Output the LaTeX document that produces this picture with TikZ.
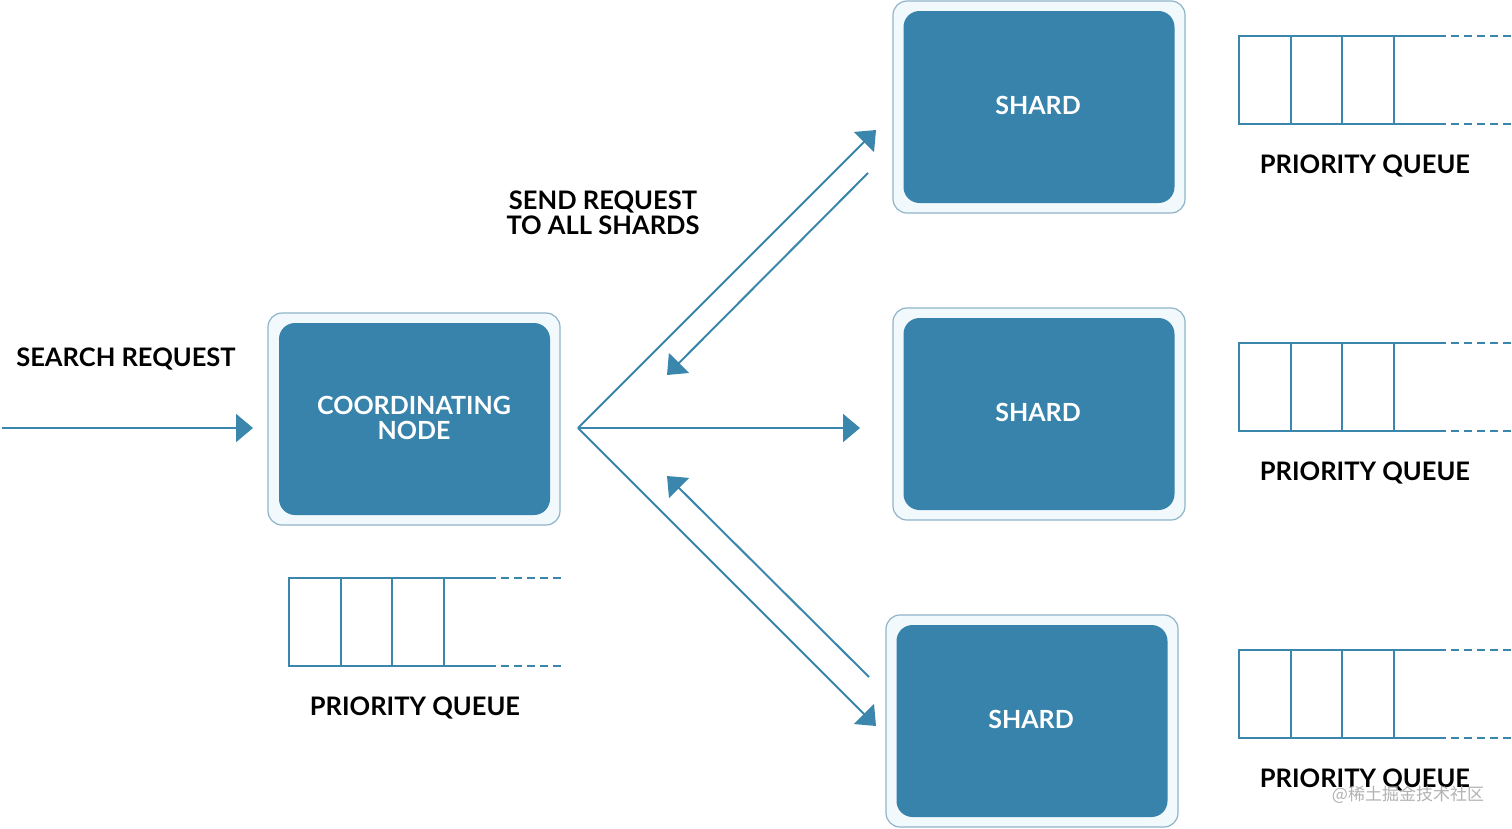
\documentclass[tikz,border=0pt]{standalone}
\usepackage{fontspec}
\setmainfont{Lato}
\newfontfamily\cjk{Noto Sans CJK SC}
\usetikzlibrary{arrows.meta}
\definecolor{esblue}{HTML}{3783AB}
\definecolor{lineblue}{HTML}{3A86AD}
\definecolor{outerfill}{HTML}{F2F9FC}
\definecolor{outerdraw}{HTML}{8FB4C8}
\begin{document}
\begin{tikzpicture}[x=1pt,y=-1pt,
  outerbox/.style={draw=outerdraw, line width=1.2pt, fill=outerfill, rounded corners=14pt,
    minimum width=292pt, minimum height=212pt, inner sep=0pt},
  innerbox/.style={fill=esblue, rounded corners=16pt, minimum width=271pt, minimum height=192pt,
    inner sep=0pt},
  boxtext/.style={text=white, font=\fontsize{25}{25}\selectfont\bfseries, align=center, inner sep=0pt},
  txt/.style={text=black, font=\fontsize{25.5}{25}\selectfont\bfseries, align=center, inner sep=0pt},
  conn/.style={draw=lineblue, line width=2pt, -{Triangle[length=17pt,width=28pt]}},
  qline/.style={draw=lineblue, line width=2.8pt},
  qdash/.style={draw=lineblue, line width=2.8pt, dash pattern=on 8pt off 5pt}
]
\useasboundingbox (0,0) rectangle (1512,828);
\fill[white] (0,0) rectangle (1512,828);

% coordinating node
\node[outerbox] (coordout) at (414,419) {};
\node[innerbox] (coord) at (414.5,419) {};
\node[boxtext] (coordtxt) at (414,418) {COORDINATING\\NODE};

% shards
\node[outerbox] (s1out) at (1039,107) {};
\node[innerbox] (s1) at (1039,107) {};
\node[boxtext] (s1txt) at (1038,105) {SHARD};

\node[outerbox] (s2out) at (1039,414) {};
\node[innerbox] (s2) at (1039,414) {};
\node[boxtext] (s2txt) at (1038,412) {SHARD};

\node[outerbox] (s3out) at (1032,721) {};
\node[innerbox] (s3) at (1032,721) {};
\node[boxtext] (s3txt) at (1031,719) {SHARD};

% labels
\node[txt] (search) at (126,359) {SEARCH REQUEST};
\node[txt] (send) at (603,213) {SEND REQUEST\\TO ALL SHARDS};

% connector endpoints
\coordinate (in) at (2,428);
\coordinate (intip) at (253,428);
\coordinate (fan) at (578,428);
\coordinate (t1) at (876,130);
\coordinate (t2) at (860,428);
\coordinate (t3) at (876,726);
\coordinate (r1s) at (868,173);
\coordinate (r1t) at (667,375);
\coordinate (r3s) at (869,677);
\coordinate (r3t) at (667,476);

\draw[conn] (in) -- (intip);
\draw[conn] (fan) -- (t1);
\draw[conn] (fan) -- (t2);
\draw[conn] (fan) -- (t3);
\draw[conn] (r1s) -- (r1t);
\draw[conn] (r3s) -- (r3t);

% priority queues
\foreach \qx/\qy/\lx/\ly in {1239/36/1365/166, 1239/343/1365/473, 1239/650/1365/780, 289/578/415/708}{
  \draw[qline] (\qx+207,\qy) -- (\qx,\qy) -- (\qx,\qy+88) -- (\qx+207,\qy+88);
  \draw[qline] (\qx+52,\qy) -- (\qx+52,\qy+88);
  \draw[qline] (\qx+103,\qy) -- (\qx+103,\qy+88);
  \draw[qline] (\qx+155,\qy) -- (\qx+155,\qy+88);
  \draw[qdash] (\qx+212,\qy) -- (\qx+272,\qy);
  \draw[qdash] (\qx+212,\qy+88) -- (\qx+272,\qy+88);
  \node[txt] at (\lx,\ly) {PRIORITY QUEUE};
}

% watermark
\node[text=black!30, font=\cjk\fontsize{17}{17}\selectfont, inner sep=0pt] (wm) at (1408,795) {@稀土掘金技术社区};
\end{tikzpicture}
\end{document}
